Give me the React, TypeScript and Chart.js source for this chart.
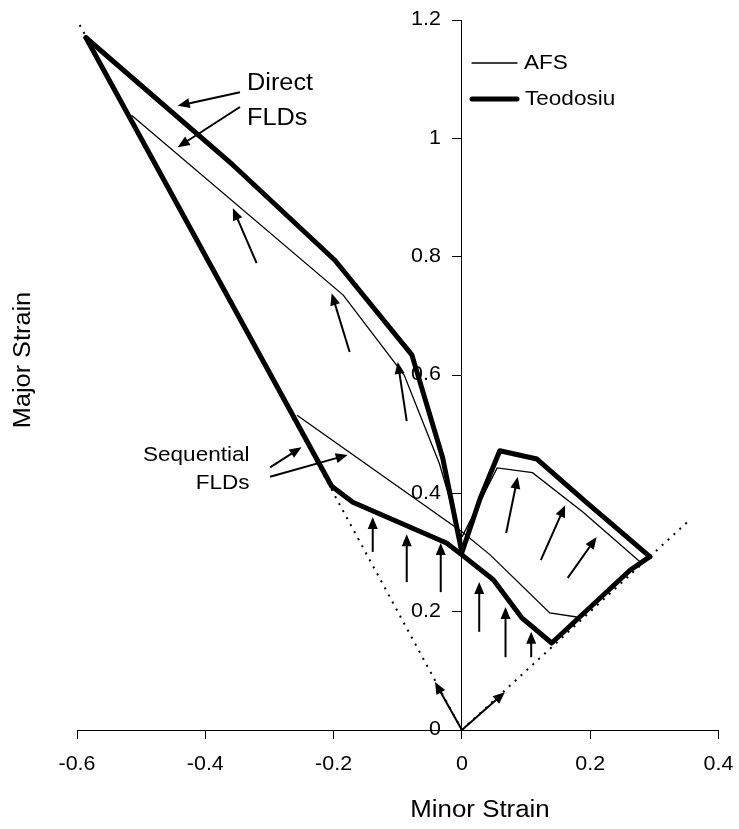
import React, { useEffect, useRef } from 'react';
import { Chart, registerables } from 'chart.js';

Chart.register(...registerables);

type P = { x: number; y: number };

// ---- data (minor strain x, major strain y) ----
const afsDirect: P[] = [
  { x: -0.515, y: 1.039 }, { x: -0.185, y: 0.735 }, { x: -0.09, y: 0.6 },
  { x: -0.035, y: 0.45 }, { x: 0, y: 0.32 },
];
const afsDirectRight: P[] = [
  { x: 0, y: 0.326 }, { x: 0.055, y: 0.443 }, { x: 0.11, y: 0.435 },
  { x: 0.189, y: 0.368 }, { x: 0.278, y: 0.284 },
];
const afsSequential: P[] = [
  { x: -0.257, y: 0.532 }, { x: 0, y: 0.335 }, { x: 0.044, y: 0.296 },
  { x: 0.137, y: 0.198 }, { x: 0.179, y: 0.191 },
];
const teoDirect: P[] = [
  { x: -0.586, y: 1.17 }, { x: -0.357, y: 0.955 }, { x: -0.198, y: 0.794 },
  { x: -0.078, y: 0.634 }, { x: -0.03, y: 0.46 }, { x: 0, y: 0.3 },
  { x: 0.028, y: 0.39 }, { x: 0.059, y: 0.472 }, { x: 0.117, y: 0.458 },
  { x: 0.195, y: 0.384 }, { x: 0.293, y: 0.293 },
];
const teoSequential: P[] = [
  { x: -0.586, y: 1.17 }, { x: -0.203, y: 0.412 }, { x: -0.17, y: 0.385 },
  { x: -0.024, y: 0.316 }, { x: 0, y: 0.296 }, { x: 0.049, y: 0.254 },
  { x: 0.093, y: 0.19 }, { x: 0.14, y: 0.147 }, { x: 0.262, y: 0.27 },
  { x: 0.293, y: 0.293 },
];
const uniaxialPath: P[] = [{ x: 0, y: 0 }, { x: -0.6, y: 1.2 }];
const biaxialPath: P[] = [{ x: 0, y: 0 }, { x: 0.355, y: 0.355 }];

// arrows: tail x, tail y, head x, head y
const arrows: [number, number, number, number][] = [
  [-0.346, 1.078, -0.443, 1.055],
  [-0.346, 1.053, -0.443, 0.985],
  [-0.32, 0.789, -0.357, 0.882],
  [-0.175, 0.639, -0.203, 0.738],
  [-0.086, 0.522, -0.1, 0.622],
  [-0.299, 0.444, -0.25, 0.478],
  [-0.299, 0.428, -0.178, 0.465],
  [-0.139, 0.301, -0.139, 0.36],
  [-0.086, 0.25, -0.086, 0.331],
  [-0.033, 0.233, -0.033, 0.316],
  [0.027, 0.166, 0.027, 0.25],
  [0.068, 0.123, 0.068, 0.208],
  [0.108, 0.123, 0.108, 0.166],
  [0.069, 0.333, 0.087, 0.428],
  [0.123, 0.287, 0.161, 0.38],
  [0.165, 0.257, 0.21, 0.326],
  [0, 0, -0.042, 0.081],
  [0, 0, 0.067, 0.064],
];

const xTicks = [-0.6, -0.4, -0.2, 0, 0.2, 0.4];
const xTickLabels = ['-0.6', '-0.4', '-0.2', '0', '0.2', '0.4'];
const yTicks = [0, 0.2, 0.4, 0.6, 0.8, 1, 1.2];
const yTickLabels = ['0', '0.2', '0.4', '0.6', '0.8', '1', '1.2'];

const seriesNames = ['AFS', 'Teodosiu'];
const directLabel = ['Direct', 'FLDs'];
const sequentialLabel = ['Sequential', 'FLDs'];
const xTitle = 'Minor Strain';
const yTitle = 'Major Strain';

const FONT = '"Liberation Sans", Arial, Helvetica, sans-serif';
const STRETCH = 1.1;

function text(ctx: CanvasRenderingContext2D, s: string, x: number, y: number, size: number, align: CanvasTextAlign, rot = 0) {
  ctx.save();
  ctx.translate(x, y);
  if (rot) ctx.rotate(rot);
  ctx.scale(STRETCH, 1);
  ctx.font = `${size}px ${FONT}`;
  ctx.textAlign = align;
  ctx.textBaseline = 'middle';
  ctx.fillStyle = '#000';
  ctx.fillText(s, 0, 0);
  ctx.restore();
}

const overlayPlugin = {
  id: 'overlay',
  afterDatasetsDraw(chart: any) {
    const { ctx, scales } = chart;
    const xs = scales.x;
    const ys = scales.y;
    ctx.save();
    ctx.fillStyle = '#000';
    ctx.strokeStyle = '#000';
    // arrows
    for (const [x0, y0, x1, y1] of arrows) {
      const ax = xs.getPixelForValue(x0);
      const ay = ys.getPixelForValue(y0);
      const bx = xs.getPixelForValue(x1);
      const by = ys.getPixelForValue(y1);
      const ang = Math.atan2(by - ay, bx - ax);
      const hl = 12;
      const hw = 5;
      const cx = bx - hl * Math.cos(ang);
      const cy = by - hl * Math.sin(ang);
      ctx.lineWidth = 2;
      ctx.beginPath();
      ctx.moveTo(ax, ay);
      ctx.lineTo(cx + 2 * Math.cos(ang), cy + 2 * Math.sin(ang));
      ctx.stroke();
      ctx.beginPath();
      ctx.moveTo(bx, by);
      ctx.lineTo(cx + hw * Math.sin(ang), cy - hw * Math.cos(ang));
      ctx.lineTo(cx - hw * Math.sin(ang), cy + hw * Math.cos(ang));
      ctx.closePath();
      ctx.fill();
    }
    // tick labels
    const x0 = xs.getPixelForValue(0);
    yTicks.forEach((v, i) => text(ctx, yTickLabels[i], x0 - 21, ys.getPixelForValue(v), 19.5, 'right'));
    xTicks.forEach((v, i) => text(ctx, xTickLabels[i], xs.getPixelForValue(v), ys.bottom + 35, 19.5, 'center'));
    // annotations
    const dx = xs.getPixelForValue(-0.335);
    text(ctx, directLabel[0], dx, ys.getPixelForValue(1.092), 23, 'left');
    text(ctx, directLabel[1], dx, ys.getPixelForValue(1.034), 23, 'left');
    const sx = xs.getPixelForValue(-0.331);
    text(ctx, sequentialLabel[0], sx, ys.getPixelForValue(0.465), 20.5, 'right');
    text(ctx, sequentialLabel[1], sx, ys.getPixelForValue(0.417), 20.5, 'right');
    // legend
    ctx.lineCap = 'round';
    ctx.lineWidth = 1.3;
    ctx.beginPath();
    ctx.moveTo(472, 63);
    ctx.lineTo(517, 63);
    ctx.stroke();
    text(ctx, seriesNames[0], 524, 63, 20.5, 'left');
    ctx.lineWidth = 5;
    ctx.beginPath();
    ctx.moveTo(472, 99);
    ctx.lineTo(517, 99);
    ctx.stroke();
    text(ctx, seriesNames[1], 525, 99, 20.5, 'left');
    // axis titles
    text(ctx, xTitle, 480, 811, 23.5, 'center');
    text(ctx, yTitle, 24, 360, 23, 'center', -Math.PI / 2);
    ctx.restore();
  },
};

export default function App() {
  const ref = useRef<HTMLCanvasElement>(null);
  useEffect(() => {
    if (!ref.current) return;
    Chart.defaults.font.family = FONT;
    const thin = { borderColor: '#000', borderWidth: 1.3, pointRadius: 0, showLine: true, fill: false };
    const thick = { borderColor: '#000', borderWidth: 5, pointRadius: 0, showLine: true, fill: false, borderCapStyle: 'round' as const, borderJoinStyle: 'round' as const };
    const dotted = { borderColor: '#000', borderWidth: 2, borderDash: [2, 6], pointRadius: 0, showLine: true, fill: false };
    const chart = new Chart(ref.current, {
      type: 'scatter',
      data: {
        datasets: [
          { label: 'uniaxial', data: uniaxialPath, ...dotted },
          { label: 'biaxial', data: biaxialPath, ...dotted },
          { label: 'AFS', data: afsDirect, ...thin },
          { label: 'AFS right', data: afsDirectRight, ...thin },
          { label: 'AFS seq', data: afsSequential, ...thin },
          { label: 'Teodosiu', data: teoDirect, ...thick },
          { label: 'Teodosiu seq', data: teoSequential, ...thick },
        ],
      },
      options: {
        animation: false,
        responsive: true,
        maintainAspectRatio: false,
        layout: { padding: { left: 77, right: 20.5, top: 20, bottom: 0 } },
        plugins: { legend: { display: false }, tooltip: { enabled: false } },
        scales: {
          x: {
            type: 'linear',
            position: 'bottom',
            min: -0.6,
            max: 0.4,
            afterBuildTicks: (s: any) => { s.ticks = xTicks.map((v) => ({ value: v })); },
            afterFit: (s: any) => { s.height = 99; },
            grid: { drawOnChartArea: false, drawTicks: true, tickLength: 9, color: '#000' },
            border: { display: true, color: '#000', width: 1 },
            ticks: { display: false },
          },
          y: {
            type: 'linear',
            position: { x: 0 } as any,
            min: 0,
            max: 1.2,
            afterBuildTicks: (s: any) => { s.ticks = yTicks.map((v) => ({ value: v })); },
            afterFit: (s: any) => { s.width = 0; },
            grid: { drawOnChartArea: false, drawTicks: true, tickLength: 9, color: '#000' },
            border: { display: true, color: '#000', width: 1 },
            ticks: { display: false },
          },
        },
      },
      plugins: [overlayPlugin],
    });
    return () => chart.destroy();
  }, []);
  return (
    <div style={{ position: 'fixed', left: 0, top: 0, width: 739, height: 829, background: '#fff' }}>
      <canvas ref={ref} />
    </div>
  );
}
